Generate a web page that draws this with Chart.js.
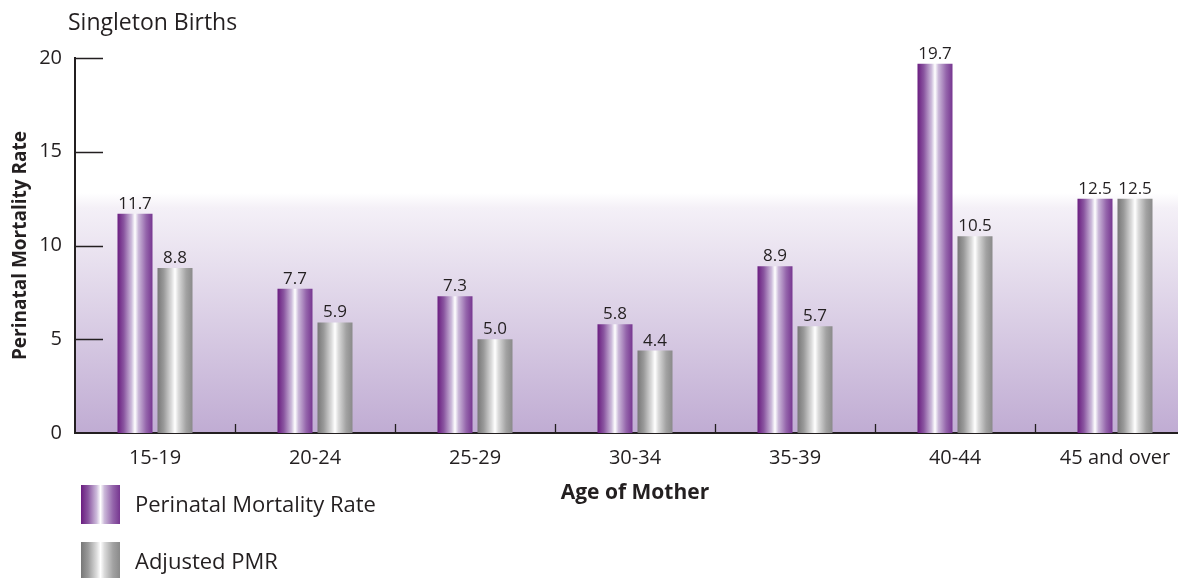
<!DOCTYPE html>
<html>
<head>
<meta charset="utf-8">
<title>Singleton Births</title>
<script src="https://cdn.jsdelivr.net/npm/chart.js@4.4.1/dist/chart.umd.min.js"></script>
<style>
  html, body { margin: 0; padding: 0; background: #fff; overflow: hidden; }
  #wrap { width: 1178px; height: 578px; overflow: hidden; }
</style>
</head>
<body>
<div id="wrap"><canvas id="pmrChart" width="1200" height="578"></canvas></div>
<script>
// Chart data
const ageGroups = ['15-19', '20-24', '25-29', '30-34', '35-39', '40-44', '45 and over'];
const pmrValues = [11.7, 7.7, 7.3, 5.8, 8.9, 19.7, 12.5];
const adjustedValues = [8.8, 5.9, 5.0, 4.4, 5.7, 10.5, 12.5];
const yTicks = [0, 5, 10, 15, 20];

const textColor = '#231f20';
const fontFamily = "'Open Sans', 'DejaVu Sans', sans-serif";

// cylinder-like shading across each bar
const purpleStops = [[0, '#6a1d80'], [0.18, '#8a55a0'], [0.4, '#cdbbdb'], [0.5, '#ffffff'], [0.6, '#cbb8d9'], [0.82, '#9465ab'], [1, '#763690']];
const greyStops = [[0, '#777777'], [0.18, '#9a9a9a'], [0.4, '#dcdcdc'], [0.5, '#ffffff'], [0.6, '#dadada'], [0.82, '#a2a2a2'], [1, '#8a8a8a']];

function makeGradient(ctx, x0, x1, stops) {
    const g = ctx.createLinearGradient(x0, 0, x1, 0);
    stops.forEach(s => g.addColorStop(s[0], s[1]));
    return g;
}

// Plot area background: white fading to lavender
const plotBackground = {
    id: 'plotBackground',
    beforeDraw(chart) {
        const { ctx, chartArea: a } = chart;
        const g = ctx.createLinearGradient(0, a.top, 0, a.bottom);
        g.addColorStop(0, '#ffffff');
        g.addColorStop(0.36, '#ffffff');
        g.addColorStop(0.4, '#f4f0f7');
        g.addColorStop(1, '#c0acd3');
        ctx.save();
        ctx.fillStyle = g;
        ctx.fillRect(a.left, a.top, a.right - a.left, a.bottom - a.top);
        ctx.restore();
    }
};

// Give every bar its own horizontal gradient
const barShading = {
    id: 'barShading',
    beforeDatasetsDraw(chart) {
        chart.data.datasets.forEach((ds, i) => {
            chart.getDatasetMeta(i).data.forEach(bar => {
                const half = bar.width / 2;
                bar.options.backgroundColor = makeGradient(chart.ctx, bar.x - half, bar.x + half, ds.shadeStops);
            });
        });
    }
};

// Values over the bars, inner tick marks, title and legend
const extras = {
    id: 'extras',
    afterDatasetsDraw(chart) {
        const { ctx, chartArea: a } = chart;
        ctx.save();
        ctx.fillStyle = textColor;
        ctx.font = '17px ' + fontFamily;
        ctx.textAlign = 'center';
        ctx.textBaseline = 'alphabetic';
        chart.data.datasets.forEach((ds, i) => {
            chart.getDatasetMeta(i).data.forEach((bar, j) => {
                ctx.fillText(ds.data[j].toFixed(1), bar.x, bar.y - 5);
            });
        });

        // tick marks pointing into the plot
        const xs = chart.scales.x, ys = chart.scales.y;
        ctx.strokeStyle = textColor;
        ctx.lineWidth = 1.3;
        ctx.beginPath();
        ys.ticks.forEach(t => {
            if (t.value === 0) return;
            const py = Math.round(ys.getPixelForValue(t.value)) + 0.5;
            ctx.moveTo(a.left, py);
            ctx.lineTo(a.left + 28, py);
        });
        for (let i = 1; i <= ageGroups.length; i++) {
            const px = Math.round(xs.getPixelForValue(i - 0.5)) + 0.5;
            ctx.moveTo(px, a.bottom);
            ctx.lineTo(px, a.bottom - 9);
        }
        ctx.stroke();
        ctx.restore();
    },
    afterDraw(chart) {
        const { ctx, chartArea: a } = chart;
        ctx.save();
        ctx.fillStyle = textColor;
        ctx.font = '23px ' + fontFamily;
        ctx.textAlign = 'left';
        ctx.textBaseline = 'middle';
        ctx.fillText('Singleton Births', 68, 23);

        // legend, stacked below the axis
        ctx.font = '22px ' + fontFamily;
        chart.data.datasets.forEach((ds, i) => {
            const top = a.bottom + 52 + i * 57;
            const box = 39;
            ctx.fillStyle = makeGradient(ctx, 81, 81 + box, ds.shadeStops);
            ctx.fillRect(81, top, box, box);
            ctx.fillStyle = textColor;
            ctx.fillText(ds.label, 135, top + box / 2 + 1);
        });
        ctx.restore();
    }
};

new Chart(document.getElementById('pmrChart'), {
    type: 'bar',
    data: {
        labels: ageGroups,
        datasets: [{
            label: 'Perinatal Mortality Rate',
            data: pmrValues,
            shadeStops: purpleStops,
            backgroundColor: () => '#8a55a0',
            borderWidth: 0,
            categoryPercentage: 0.5,
            barPercentage: 0.875
        }, {
            label: 'Adjusted PMR',
            data: adjustedValues,
            shadeStops: greyStops,
            backgroundColor: () => '#9a9a9a',
            borderWidth: 0,
            categoryPercentage: 0.5,
            barPercentage: 0.875
        }]
    },
    options: {
        responsive: false,
        animation: false,
        devicePixelRatio: 1,
        layout: { padding: { top: 58, right: 5, bottom: 74, left: 0 } },
        plugins: {
            legend: { display: false },
            tooltip: { enabled: false }
        },
        scales: {
            x: {
                grid: { display: false, drawTicks: false },
                border: { display: true, color: textColor, width: 2 },
                ticks: { color: textColor, padding: 15, font: { family: fontFamily, size: 20, lineHeight: 1 } },
                title: {
                    display: true,
                    text: 'Age of Mother',
                    color: textColor,
                    padding: { top: 0, bottom: 0 },
                    font: { family: fontFamily, size: 21, weight: 'bold', lineHeight: 1 }
                }
            },
            y: {
                min: yTicks[0],
                max: yTicks[yTicks.length - 1],
                afterBuildTicks: s => { s.ticks = yTicks.map(v => ({ value: v })); },
                afterFit: s => { s.width = 75; },
                grid: { display: false, drawTicks: false },
                border: { display: true, color: textColor, width: 2 },
                ticks: { color: textColor, padding: 13, font: { family: fontFamily, size: 20 } },
                title: {
                    display: true,
                    text: 'Perinatal Mortality Rate',
                    color: textColor,
                    padding: { top: 9, bottom: 0 },
                    font: { family: fontFamily, size: 19, weight: 'bold' }
                }
            }
        }
    },
    plugins: [plotBackground, barShading, extras]
});
</script>
</body>
</html>
